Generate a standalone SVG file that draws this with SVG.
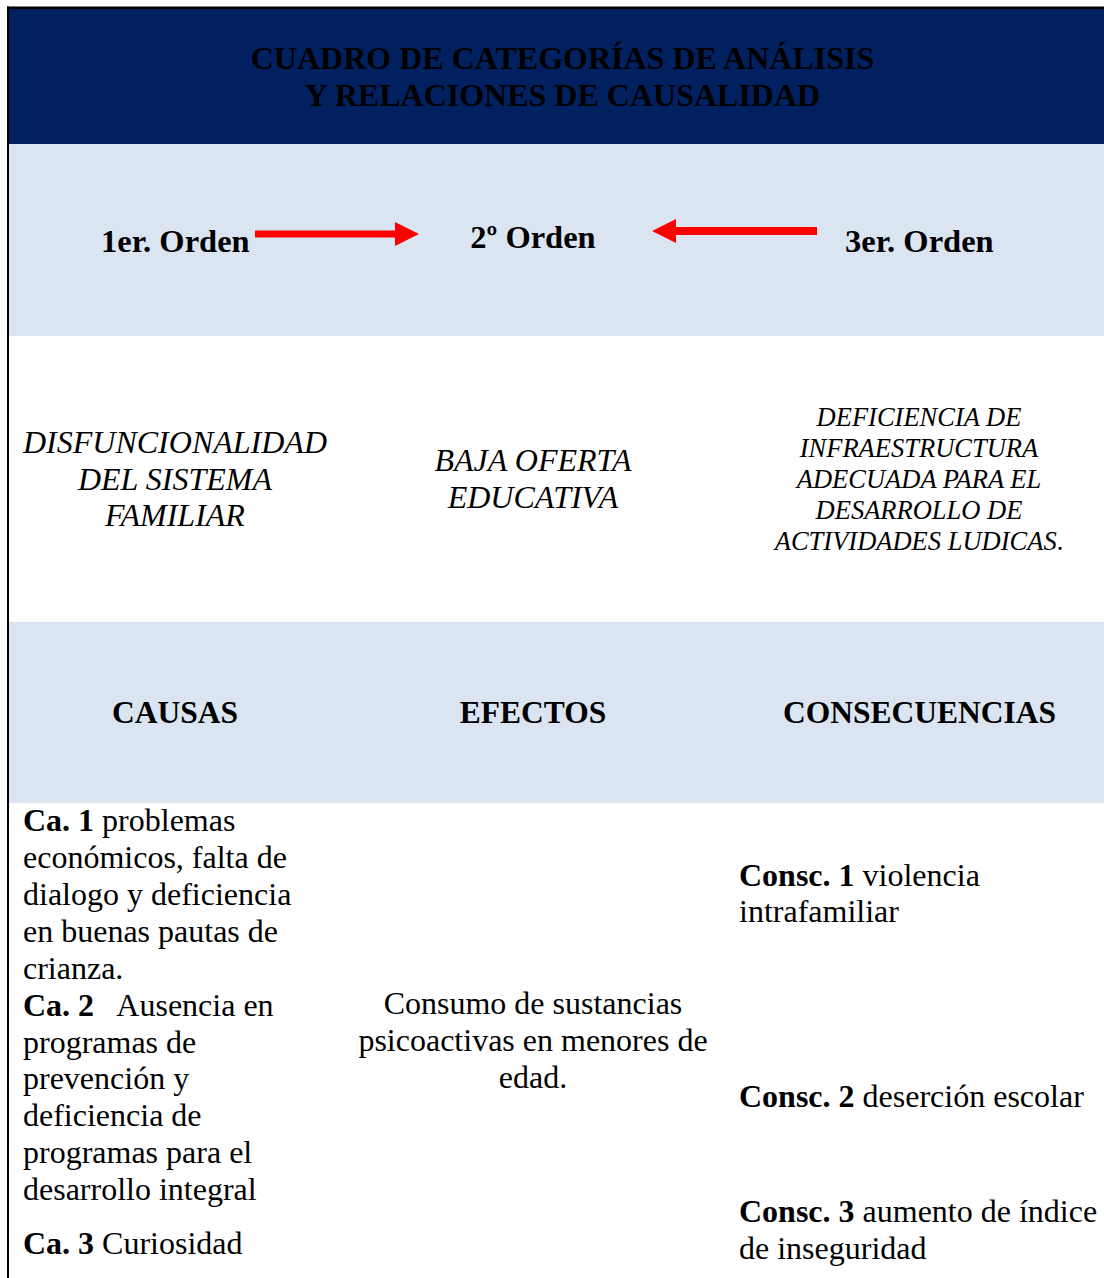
<svg xmlns="http://www.w3.org/2000/svg" width="1104" height="1278" viewBox="0 0 1104 1278">
<style>
text{font-family:"Liberation Serif","Times New Roman",serif;fill:#000}
.t{font-size:32px;font-weight:bold}
.o{font-size:32.5px;font-weight:bold}
.h{font-size:31.5px;font-weight:bold}
.i{font-size:32px;font-style:italic}
.is{font-size:26.5px;font-style:italic}
.b{font-size:32px}
.bb{font-weight:bold}
.arrow{fill:#ff0000}
</style>
<rect x="0" y="0" width="1104" height="1278" fill="#fff"/>
<g id="bands">
<rect x="9" y="9" width="1095" height="135" fill="#002060"/>
<rect x="9" y="144" width="1095" height="192" fill="#DBE5F1"/>
<rect x="9" y="622" width="1095" height="181" fill="#DBE5F1"/>
</g>
<g id="border" fill="#000">
<rect x="7" y="6.5" width="1097" height="2.5"/>
<rect x="7" y="6.5" width="2" height="1272"/>
</g>
<g id="title">
<text class="t" x="562.5" y="69" text-anchor="middle">CUADRO DE CATEGORÍAS DE ANÁLISIS</text>
<text class="t" x="562.5" y="106" text-anchor="middle">Y RELACIONES DE CAUSALIDAD</text>
</g>
<g id="orden1"><text class="o" x="101" y="252">1er. Orden</text></g>
<g id="orden2"><text class="o" x="533" y="248" text-anchor="middle">2º Orden</text></g>
<g id="orden3"><text class="o" x="845" y="252">3er. Orden</text></g>
<g id="connectors">
<polygon class="arrow" points="255,230.5 395,230.5 395,222 419,234 395,246 395,237.5 255,237.5"/>
<polygon class="arrow" points="817,227 676,227 676,219 652,231 676,243 676,235 817,235"/>
</g>
<g id="cat1">
<text class="i" x="175" y="453" text-anchor="middle">DISFUNCIONALIDAD</text>
<text class="i" x="175" y="489.5" text-anchor="middle">DEL SISTEMA</text>
<text class="i" x="175" y="526" text-anchor="middle">FAMILIAR</text>
</g>
<g id="cat2">
<text class="i" x="533" y="471" text-anchor="middle">BAJA OFERTA</text>
<text class="i" x="533" y="507.5" text-anchor="middle">EDUCATIVA</text>
</g>
<g id="cat3">
<text class="is" x="919" y="426" text-anchor="middle">DEFICIENCIA DE</text>
<text class="is" x="919" y="457" text-anchor="middle">INFRAESTRUCTURA</text>
<text class="is" x="919" y="488" text-anchor="middle">ADECUADA PARA EL</text>
<text class="is" x="919" y="519" text-anchor="middle">DESARROLLO DE</text>
<text class="is" x="919" y="550" text-anchor="middle">ACTIVIDADES LUDICAS<tspan font-style="normal">.</tspan></text>
</g>
<g id="causas"><text class="h" x="175" y="723" text-anchor="middle">CAUSAS</text></g>
<g id="efectos"><text class="h" x="533" y="723" text-anchor="middle">EFECTOS</text></g>
<g id="consecuencias"><text class="h" x="919.5" y="723" text-anchor="middle">CONSECUENCIAS</text></g>
<g id="causas-list">
<text class="b" x="23" y="831"><tspan class="bb">Ca. 1</tspan> problemas</text>
<text class="b" x="23" y="868">económicos, falta de</text>
<text class="b" x="23" y="905">dialogo y deficiencia</text>
<text class="b" x="23" y="942">en buenas pautas de</text>
<text class="b" x="23" y="978.5">crianza.</text>
<text class="b" x="23" y="1015.5" xml:space="preserve"><tspan class="bb">Ca. 2</tspan>   Ausencia en</text>
<text class="b" x="23" y="1052.5">programas de</text>
<text class="b" x="23" y="1089">prevención y</text>
<text class="b" x="23" y="1126">deficiencia de</text>
<text class="b" x="23" y="1163">programas para el</text>
<text class="b" x="23" y="1199.5">desarrollo integral</text>
<text class="b" x="23" y="1254"><tspan class="bb">Ca. 3</tspan> Curiosidad</text>
</g>
<g id="efectos-list">
<text class="b" x="533" y="1014" text-anchor="middle">Consumo de sustancias</text>
<text class="b" x="533" y="1051" text-anchor="middle">psicoactivas en menores de</text>
<text class="b" x="533" y="1088" text-anchor="middle">edad.</text>
</g>
<g id="consecuencias-list">
<text class="b" x="739" y="885.5"><tspan class="bb">Consc. 1</tspan> violencia</text>
<text class="b" x="739" y="922">intrafamiliar</text>
<text class="b" x="739" y="1107"><tspan class="bb">Consc. 2</tspan> deserción escolar</text>
<text class="b" x="739" y="1222"><tspan class="bb">Consc. 3</tspan> aumento de índice</text>
<text class="b" x="739" y="1258.5">de inseguridad</text>
</g>
</svg>
